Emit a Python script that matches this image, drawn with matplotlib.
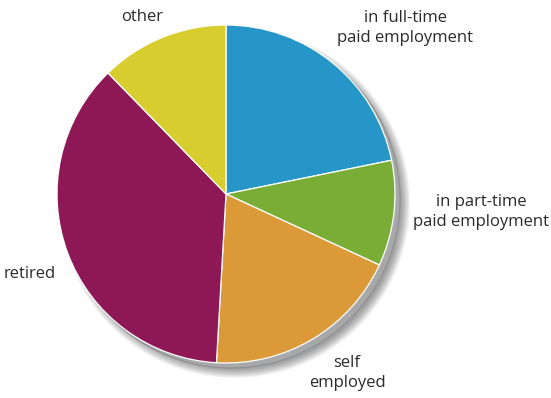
import matplotlib
matplotlib.use("Agg")
import matplotlib.pyplot as plt
from matplotlib.patches import Circle

labels = ["in full-time\npaid employment", "in part-time\npaid employment",
          "self\nemployed", "retired", "other"]
shares = [21.8, 10.1, 19.0, 36.8, 12.3]
colors = ["#2596c7", "#7aad35", "#db9937", "#8e1855", "#d7cd2e"]
# label anchor points in pixel coords (x, y from top)
label_pos = [(405, 28), (481, 212), (347, 373), (30, 274), (142, 17)]

W, H = 551, 398
cx, cy, r = 226, 194, 169

fig = plt.figure(figsize=(W / 100, H / 100), dpi=100)
ax = fig.add_axes([0, 0, 1, 1])

# soft drop shadow, kept behind the lower-right side
for i in range(10):
    ax.add_patch(Circle((cx + 9, H - cy - 9), r + 6 - i, color="black",
                        alpha=0.045, lw=0, zorder=1))
# grey rim
ax.add_patch(Circle((cx + 5, H - cy - 5), r, facecolor="#a6a8aa",
                    edgecolor="#8e9092", lw=0.8, zorder=2))

wedges, _ = ax.pie(shares, colors=colors, startangle=90, counterclock=False,
                   center=(cx, H - cy), radius=r,
                   wedgeprops=dict(edgecolor="white", linewidth=0.9))
for w in wedges:
    w.set_zorder(3)

for text, (x, y) in zip(labels, label_pos):
    ax.text(x, H - y, text, ha="center", va="center", fontsize=12,
            family="Open Sans", color="#2a2a2a", linespacing=1.3)

ax.set_xlim(0, W)
ax.set_ylim(0, H)
ax.set_aspect("equal")
ax.axis("off")

fig.savefig("out.png", dpi=100)
